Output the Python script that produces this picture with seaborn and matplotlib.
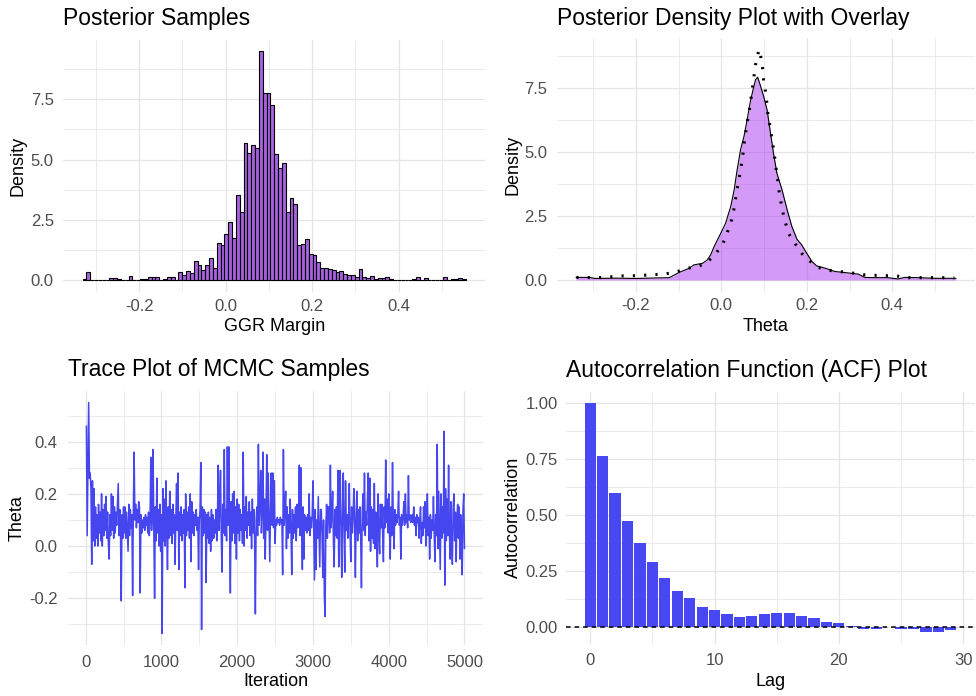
import numpy as np
import pandas as pd
import matplotlib
matplotlib.use("Agg")
import matplotlib.pyplot as plt
import matplotlib.transforms as mtransforms
from matplotlib.ticker import MultipleLocator, FormatStrFormatter
import seaborn as sns

# ---------------- data ----------------
# Histogram of posterior draws (100 equal bins, density scale)
bin_start, bin_end = -0.331, 0.5556
hist_density = [
    0.045, 0.32, 0, 0, 0, 0, 0, 0.10, 0.10, 0.045,
    0, 0, 0.17, 0, 0, 0.045, 0.045, 0.15, 0.15, 0.15,
    0, 0.045, 0.15, 0.15, 0, 0.32, 0.20, 0.37, 0.28, 0.80,
    0.62, 0.41, 0.62, 0.90, 0.51, 1.55, 1.45, 1.90, 2.39, 1.76,
    3.53, 2.84, 5.67, 5.28, 5.60, 5.49, 9.50, 7.75, 7.77, 7.26,
    5.23, 4.63, 4.87, 2.84, 3.42, 3.15, 1.45, 1.49, 1.70, 1.10,
    1.04, 0.76, 0.51, 0.51, 0.48, 0.41, 0.32, 0.37, 0.24, 0.20,
    0.20, 0.14, 0.46, 0.14, 0.07, 0.18, 0.045, 0.07, 0.07, 0.14,
    0.045, 0, 0, 0, 0, 0, 0.045, 0.14, 0, 0.10,
    0, 0, 0, 0, 0.14, 0, 0.045, 0.045, 0.10, 0.045,
]

# Kernel density of theta (filled curve)
dens_x = [-0.340, -0.308, -0.296, -0.246, -0.199, -0.150, -0.122, -0.114, -0.098, -0.075,
          -0.064, -0.044, -0.033, -0.025, -0.017, -0.005, 0.010, 0.022, 0.030, 0.037,
          0.045, 0.053, 0.059, 0.068, 0.076, 0.080, 0.085, 0.092, 0.099, 0.107,
          0.115, 0.122, 0.130, 0.142, 0.154, 0.165, 0.177, 0.188, 0.200, 0.212,
          0.223, 0.243, 0.266, 0.289, 0.320, 0.336, 0.359, 0.390, 0.413, 0.429,
          0.460, 0.499, 0.549]
dens_y = [0.10, 0.10, 0.06, 0.07, 0.06, 0.08, 0.09, 0.16, 0.30, 0.46,
          0.59, 0.65, 0.78, 0.98, 1.30, 1.70, 2.22, 2.87, 3.52, 4.30,
          5.09, 5.61, 6.13, 6.98, 7.56, 7.82, 7.92, 7.56, 7.17, 6.65,
          5.74, 4.95, 4.17, 3.52, 2.74, 2.09, 1.59, 1.37, 1.04, 0.72,
          0.55, 0.46, 0.33, 0.29, 0.23, 0.10, 0.09, 0.09, 0.04, 0.10,
          0.09, 0.065, 0.065]

# Overlay density (dotted)
overlay_x = [-0.339, -0.316, -0.292, -0.269, -0.242, -0.217, -0.193, -0.168, -0.145, -0.122,
             -0.096, -0.077, -0.052, -0.036, -0.015, 0.004, 0.014, 0.023, 0.030, 0.036,
             0.041, 0.049, 0.054, 0.058, 0.062, 0.067, 0.072, 0.076, 0.080, 0.088,
             0.094, 0.097, 0.099, 0.103, 0.106, 0.109, 0.115, 0.120, 0.124, 0.128,
             0.133, 0.136, 0.146, 0.157, 0.173, 0.188, 0.204, 0.223, 0.243, 0.266,
             0.293, 0.312, 0.336, 0.363, 0.382, 0.409, 0.437, 0.460, 0.483, 0.506,
             0.525, 0.545]
overlay_y = [0.10, 0.10, 0.09, 0.10, 0.16, 0.16, 0.17, 0.20, 0.22, 0.26,
             0.36, 0.46, 0.55, 0.65, 0.98, 1.43, 1.85, 2.28, 2.80, 3.46,
             3.90, 4.70, 5.40, 5.87, 6.30, 6.78, 7.40, 7.90, 8.40, 9.00,
             8.60, 8.20, 7.76, 7.37, 6.98, 6.46, 5.87, 5.35, 4.89, 4.37,
             3.78, 3.33, 2.48, 1.83, 1.41, 1.04, 0.78, 0.52, 0.39, 0.35,
             0.30, 0.26, 0.20, 0.18, 0.17, 0.16, 0.09, 0.09, 0.09, 0.09,
             0.09, 0.08]

# MCMC chain, thinned to every 10th iteration
trace_step = 10
trace_theta = [
    0.46, 0.04, 0.30, 0.55, 0.26, 0.28, 0.22, -0.07, 0.25, 0.02,
    0.22, 0.00, 0.15, 0.03, 0.12, 0.00, 0.16, 0.05, 0.13, 0.02,
    0.20, 0.00, 0.14, 0.04, 0.16, 0.06, 0.19, 0.03, 0.13, 0.01,
    -0.05, 0.12, 0.04, 0.20, 0.06, 0.19, 0.03, 0.15, 0.05, 0.13,
    0.08, 0.16, 0.24, 0.04, 0.14, 0.05, -0.21, 0.12, 0.03, 0.15,
    0.05, 0.15, 0.03, 0.13, 0.06, -0.02, 0.16, 0.04, 0.14, 0.07,
    0.12, -0.19, 0.15, 0.36, 0.10, 0.16, 0.07, 0.14, 0.09, 0.17,
    0.15, -0.18, 0.12, 0.05, 0.10, 0.07, 0.11, 0.06, 0.12, 0.08,
    0.11, 0.05, 0.13, 0.04, 0.10, 0.34, 0.06, 0.12, 0.37, 0.05,
    -0.20, 0.15, 0.02, 0.26, 0.05, 0.14, 0.00, 0.16, -0.02, 0.12,
    -0.335, 0.22, 0.02, 0.18, 0.00, 0.25, 0.06, -0.09, 0.15, 0.03,
    0.21, 0.04, 0.14, 0.01, 0.16, 0.05, 0.12, -0.07, 0.10, 0.24,
    0.06, 0.28, -0.09, 0.13, 0.04, 0.15, 0.02, 0.12, 0.05, 0.14,
    -0.16, 0.20, 0.04, 0.13, 0.06, 0.15, 0.03, 0.20, -0.06, 0.17,
    0.05, 0.13, 0.04, 0.12, 0.08, 0.14, 0.06, 0.11, -0.09, 0.10,
    0.14, 0.32, -0.32, 0.15, 0.04, 0.14, 0.05, 0.13, -0.14, 0.12,
    0.03, 0.13, 0.01, 0.11, -0.02, 0.14, 0.02, 0.12, 0.03, 0.10,
    0.05, 0.14, 0.02, 0.12, 0.31, 0.06, 0.15, 0.29, 0.03, -0.10,
    0.16, 0.05, 0.37, 0.04, 0.14, 0.02, 0.38, 0.08, 0.38, 0.06,
    -0.18, 0.17, 0.02, 0.20, 0.05, 0.21, 0.01, 0.15, -0.05, 0.18,
    0.05, 0.16, 0.02, 0.14, 0.06, 0.12, 0.01, 0.36, 0.00, 0.15,
    0.06, 0.19, 0.03, 0.13, 0.08, 0.17, 0.04, 0.13, -0.01, 0.18,
    0.05, 0.14, 0.02, -0.26, 0.10, 0.15, 0.04, 0.39, 0.08, 0.16,
    0.29, 0.05, 0.14, 0.36, 0.03, 0.18, -0.05, 0.12, 0.35, 0.06,
    0.28, 0.10, -0.06, 0.14, 0.28, 0.08, 0.28, 0.07, 0.25, 0.01,
    0.10, 0.08, 0.11, 0.09, 0.10, 0.08, 0.11, 0.09, 0.10, -0.11,
    0.37, 0.08, 0.14, 0.21, -0.01, 0.15, 0.03, 0.12, 0.05, 0.18,
    0.06, -0.11, 0.14, 0.03, 0.12, 0.05, 0.15, 0.02, 0.16, 0.07,
    0.13, 0.31, 0.04, 0.30, 0.08, -0.09, 0.15, -0.05, 0.12, 0.06,
    0.11, 0.05, 0.12, 0.06, 0.20, 0.04, 0.11, 0.07, 0.12, 0.25,
    0.06, -0.13, 0.14, -0.09, 0.10, 0.03, 0.19, 0.05, -0.08, 0.14,
    0.14, 0.04, -0.12, 0.10, -0.19, -0.27, 0.08, 0.16, 0.03, 0.15,
    0.15, 0.05, 0.31, 0.07, 0.13, 0.21, 0.02, -0.08, 0.14, 0.04,
    0.15, 0.03, 0.29, -0.08, 0.12, 0.29, 0.06, -0.12, 0.13, 0.28,
    0.05, -0.10, 0.25, 0.06, 0.12, 0.03, 0.11, 0.24, 0.04, -0.06,
    0.15, 0.05, 0.12, 0.22, 0.08, -0.12, 0.13, 0.21, 0.02, 0.14,
    0.05, 0.15, 0.03, -0.16, 0.12, 0.20, 0.06, 0.28, 0.04, 0.13,
    0.08, 0.19, 0.28, 0.02, 0.26, -0.02, 0.15, 0.03, 0.14, 0.01,
    0.24, -0.01, 0.13, 0.04, -0.08, 0.20, 0.05, -0.03, 0.16, 0.07,
    0.16, 0.04, -0.06, 0.15, 0.07, 0.33, 0.09, 0.18, 0.05, 0.20,
    0.06, -0.05, 0.15, 0.04, 0.32, 0.10, -0.01, 0.14, 0.08, 0.12,
    0.09, 0.12, 0.21, 0.08, 0.11, -0.05, 0.12, 0.08, 0.11, 0.17,
    0.08, 0.20, 0.09, 0.12, 0.07, 0.27, 0.10, 0.12, 0.09, 0.11,
    0.12, 0.09, 0.15, 0.08, 0.11, 0.04, 0.12, 0.09, 0.11, 0.03,
    0.10, 0.15, 0.01, 0.09, 0.04, 0.15, 0.07, 0.17, 0.00, 0.11,
    0.20, 0.04, 0.11, -0.05, 0.12, 0.03, 0.10, 0.06, 0.19, 0.05,
    -0.06, 0.12, 0.04, 0.39, -0.01, 0.21, 0.06, -0.09, 0.20, 0.03,
    0.15, 0.05, 0.44, -0.15, 0.22, 0.02, 0.18, 0.04, 0.31, 0.06,
    -0.05, 0.17, 0.03, -0.07, 0.14, 0.20, 0.02, 0.13, -0.06, 0.11,
    0.16, 0.03, 0.15, -0.05, 0.12, 0.02, -0.11, 0.14, 0.20, -0.01,
]

# Autocorrelation of the chain
acf_lag = list(range(30))
acf_value = [1.00, 0.766, 0.600, 0.472, 0.375, 0.288, 0.218, 0.161, 0.127, 0.090,
             0.073, 0.057, 0.045, 0.050, 0.057, 0.061, 0.061, 0.050, 0.039, 0.021,
             0.015, 0.003, -0.012, -0.012, -0.003, -0.009, -0.009, -0.024, -0.024, -0.015]

# ---------------- styling ----------------
sns.set_style("white")
plt.rcParams["font.family"] = ["Liberation Sans", "DejaVu Sans"]
plt.rcParams["axes.unicode_minus"] = False

W, H = 976, 696
fig = plt.figure(figsize=(W / 100, H / 100), dpi=100)
fig.patch.set_facecolor("white")

GRID = "#E5E5E5"
TICK_COLOR = "#4D4D4D"


def panel(left, top, right, bottom):
    """Axes placed by pixel edges (origin top-left)."""
    return fig.add_axes([left / W, 1 - bottom / H, (right - left) / W, (bottom - top) / H])


def expand(lo, hi, mult=0.05):
    r = hi - lo
    return lo - mult * r, hi + mult * r


def minimal(ax, xmaj, ymaj, xfmt, yfmt, xpad, ypad):
    for s in ax.spines.values():
        s.set_visible(False)
    ax.xaxis.set_major_locator(MultipleLocator(xmaj))
    ax.xaxis.set_minor_locator(MultipleLocator(xmaj / 2))
    ax.yaxis.set_major_locator(MultipleLocator(ymaj))
    ax.yaxis.set_minor_locator(MultipleLocator(ymaj / 2))
    ax.xaxis.set_major_formatter(FormatStrFormatter(xfmt))
    ax.yaxis.set_major_formatter(FormatStrFormatter(yfmt))
    ax.grid(which="major", color=GRID, linewidth=0.9)
    ax.grid(which="minor", color=GRID, linewidth=0.55)
    ax.tick_params(which="both", length=0, labelsize=12, labelcolor=TICK_COLOR)
    ax.tick_params(axis="x", pad=xpad)
    ax.tick_params(axis="y", pad=ypad)
    ax.set_axisbelow(True)


def labels(ax, title, xlabel, ylabel, title_pad, xlab_y, ylab_x):
    ax.set_title(title, loc="left", fontsize=16.5, pad=title_pad, color="black")
    ax.set_xlabel(xlabel, fontsize=13, va="center", color="black")
    ax.set_ylabel(ylabel, fontsize=13, va="center", color="black")
    ax.xaxis.set_label_coords(
        0.5, 1 - xlab_y / H,
        transform=mtransforms.blended_transform_factory(ax.transAxes, fig.transFigure))
    ax.yaxis.set_label_coords(
        ylab_x / W, 0.5,
        transform=mtransforms.blended_transform_factory(fig.transFigure, ax.transAxes))


# ---------------- Posterior Samples (histogram) ----------------
ax1 = panel(63.5, 39.5, 485, 291.6)
n_bins = len(hist_density)
bin_width = (bin_end - bin_start) / n_bins
hist_df = pd.DataFrame({
    "margin": bin_start + bin_width * (np.arange(n_bins) + 0.5),
    "density": hist_density,
})
sns.histplot(data=hist_df, x="margin", weights="density", bins=n_bins,
             binrange=(bin_start, bin_end), ax=ax1,
             color="#A862E0", edgecolor="black", linewidth=0.8, alpha=1)
ax1.set_xlim(*expand(bin_start, bin_end))
ax1.set_ylim(*expand(0, max(hist_density)))
minimal(ax1, 0.2, 2.5, "%.1f", "%.1f", xpad=5.0, ypad=7.0)
labels(ax1, "Posterior Samples", "GGR Margin", "Density", 10.2, 326, 18.5)

# ---------------- Posterior density with overlay ----------------
ax2 = panel(557, 38, 975, 291.5)
ax2.fill_between(dens_x, dens_y, color="#A020F0", alpha=0.45, linewidth=0)
sns.lineplot(x=dens_x, y=dens_y, ax=ax2, color="black", linewidth=0.8,
             estimator=None, sort=False)
sns.lineplot(x=overlay_x, y=overlay_y, ax=ax2, color="black", linewidth=2.2,
             linestyle=(0, (0.7, 3.0)), dash_capstyle="butt", estimator=None, sort=False)
ax2.set_xlim(*expand(min(min(dens_x), min(overlay_x)), max(max(dens_x), max(overlay_x))))
ax2.set_ylim(*expand(0, max(max(dens_y), max(overlay_y))))
minimal(ax2, 0.2, 2.5, "%.1f", "%.1f", xpad=5.0, ypad=7.0)
labels(ax2, "Posterior Density Plot with Overlay", "Theta", "Density", 9.4, 326, 513)

# ---------------- Trace plot ----------------
ax3 = panel(67.5, 391, 483.4, 645)
trace_iter = np.arange(1, len(trace_theta) + 1) * trace_step
sns.lineplot(x=trace_iter, y=trace_theta, ax=ax3, color="#4646F0", linewidth=1.1,
             estimator=None, sort=False)
ax3.set_xlim(*expand(trace_iter.min(), trace_iter.max()))
ax3.set_ylim(*expand(min(trace_theta), max(trace_theta)))
minimal(ax3, 1000, 0.2, "%d", "%.1f", xpad=7.0, ypad=7.0)
labels(ax3, "Trace Plot of MCMC Samples", "Iteration", "Theta", 10.8, 682, 17.5)

# ---------------- ACF ----------------
ax4 = panel(566, 392, 975, 643.5)
sns.barplot(x=acf_lag, y=acf_value, ax=ax4, native_scale=True, width=0.9,
            color="#4848F2", saturation=1, linewidth=0)
ax4.axhline(0, color="black", linewidth=1.1, linestyle=(0, (3.0, 2.6)))
ax4.set_xlim(*expand(min(acf_lag) - 0.45, max(acf_lag) + 0.45))
ax4.set_ylim(*expand(min(0, min(acf_value)), max(acf_value)))
minimal(ax4, 10, 0.25, "%d", "%.2f", xpad=6.5, ypad=6.0)
labels(ax4, "Autocorrelation Function (ACF) Plot", "Lag", "Autocorrelation", 11.0, 682, 513)

fig.savefig("out.png", dpi=100, facecolor="white")
